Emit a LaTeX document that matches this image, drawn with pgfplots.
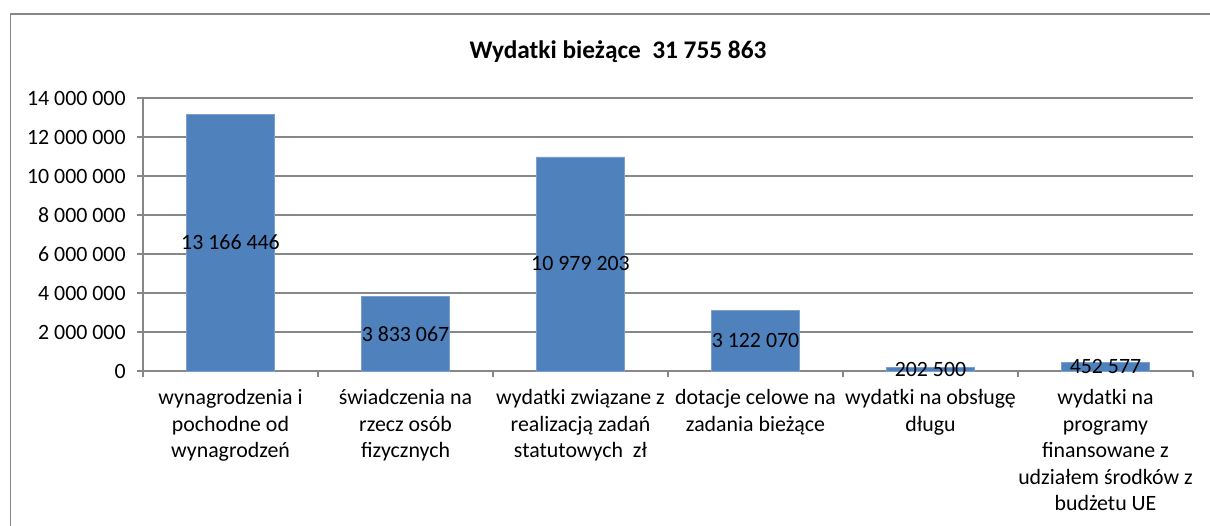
\documentclass[border=0pt]{standalone}
\usepackage{pgfplots}
\usepackage{pgfplotstable}
\pgfplotsset{compat=1.18}
\usepackage{fontspec}
\setmainfont{Carlito}
\definecolor{barblue}{HTML}{4F81BD}
\definecolor{gridgray}{HTML}{878787}
\pgfplotstableread[col sep=comma]{
x,v,lab
0,13166446,13 166 446
1,3833067,3 833 067
2,10979203,10 979 203
3,3122070,3 122 070
4,202500,202 500
5,452577,452 577
}\datatable
\begin{document}
\begin{tikzpicture}
\useasboundingbox (0,0) rectangle (907.5pt,-393.75pt);
\draw[gridgray, line width=1pt] (7.8pt,-400pt) -- (7.8pt,-10.5pt) -- (915pt,-10.5pt);
\node[font=\fontsize{19}{23}\selectfont\bfseries] at (463.5pt,-38.5pt) {Wydatki bieżące\ \ 31 755 863};
\begin{axis}[
  at={(107.25pt,-278.25pt)}, anchor=south west,
  scale only axis, width=787.5pt, height=204.75pt,
  xmin=-0.5, xmax=5.5, ymin=0, ymax=14000000,
  axis x line*=bottom, axis y line*=left,
  axis line style={-, gridgray, line width=1pt},
  ytick={0,2000000,4000000,6000000,8000000,10000000,12000000,14000000},
  scaled y ticks=false,
  /pgf/number format/fixed, /pgf/number format/precision=0,
  /pgf/number format/1000 sep={\ }, /pgf/number format/assume math mode=true,
  yticklabel style={font=\fontsize{16.4}{19}\selectfont, xshift=-5pt},
  ymajorgrids, grid style={gridgray, line width=1pt},
  tick align=outside, major tick length=4.5pt,
  tick style={gridgray, line width=1pt},
  xtick={-0.5,0.5,1.5,2.5,3.5,4.5,5.5},
  xticklabels={},
  extra x ticks={0,1,2,3,4,5},
  extra x tick labels={{wynagrodzenia i\\pochodne od\\wynagrodzeń}, {świadczenia na\\rzecz osób\\fizycznych}, {wydatki związane z\\realizacją zadań\\statutowych\ \ zł}, {dotacje celowe na\\zadania bieżące}, {wydatki na obsługę\\długu}, {wydatki na\\programy\\finansowane z\\udziałem środków z\\budżetu UE}},
  extra x tick style={major tick length=0pt, xmajorgrids=false,
    tick label style={align=center, anchor=north, yshift=-10.5pt,
      font=\fontsize{16.4}{19.8}\selectfont}},
]
\addplot[ybar, bar width=66pt, fill=barblue, draw=barblue!75!white, line width=0.5pt]
  table[x=x, y=v] \datatable;
\addplot[draw=none, mark=none, nodes near coords, point meta=explicit symbolic,
  every node near coord/.append style={anchor=center, font=\fontsize{16.4}{19}\selectfont, inner sep=0pt}]
  table[x=x, y expr=\thisrow{v}/2, meta=lab] \datatable;
\end{axis}
\end{tikzpicture}
\end{document}
